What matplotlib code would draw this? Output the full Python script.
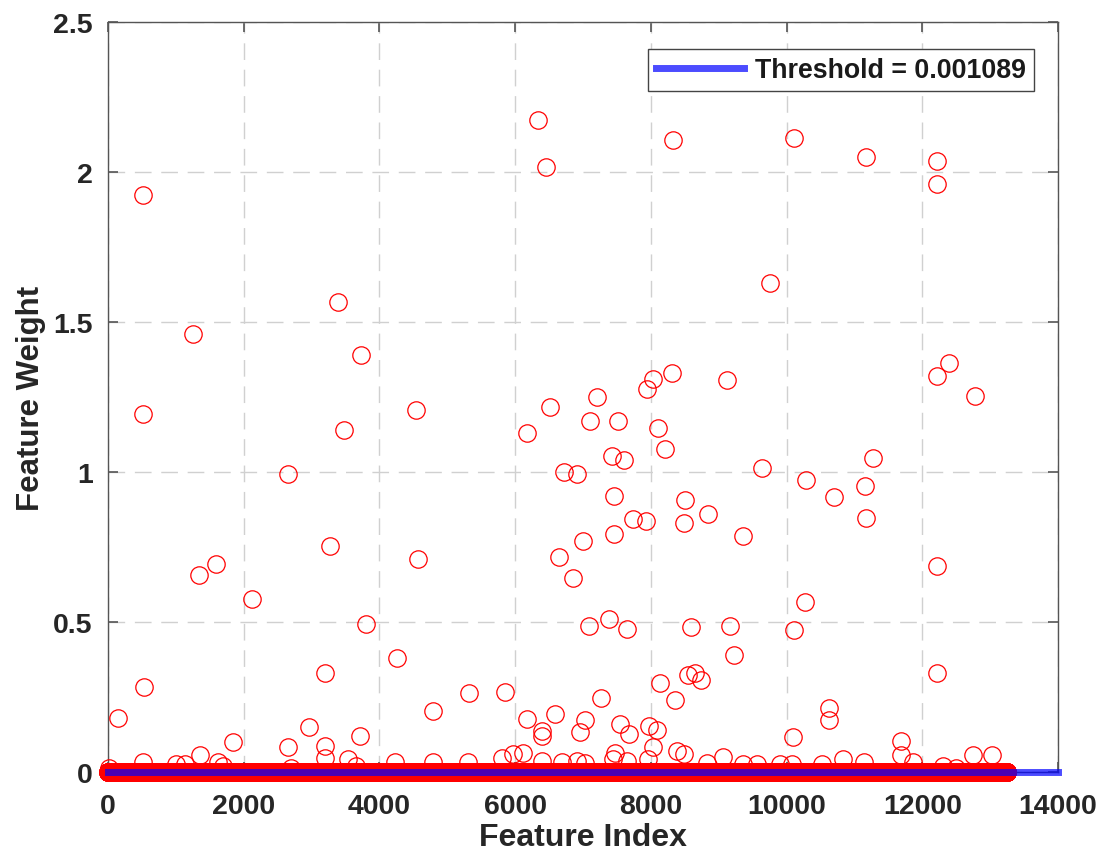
import numpy as np
import matplotlib
matplotlib.use("Agg")
import matplotlib.pyplot as plt
from matplotlib.ticker import FormatStrFormatter

plt.rcParams['font.family'] = ['Liberation Sans', 'DejaVu Sans']

# number of features in the selection run; every feature not listed below has weight 0
n_features = 13250
threshold = 0.001089

# features with a visible (non-zero) weight
feat_idx = [
    521, 6332, 6455, 8331, 10110, 11171, 12222, 12217,
    3394, 1253, 3728, 9751,
    523, 3473, 4535, 6514, 6180, 7103, 7202, 7516, 8105,
    8307, 8027, 7948, 9117, 12398, 12212, 12772,
    8203, 7423, 7609, 6725, 6907, 2657, 9633, 10287, 10695, 11156, 11166, 11278,
    7452, 7732, 7929, 8508, 8493, 8837, 9353, 7455, 7000,
    3277, 1336, 1592, 2127, 4574, 6651, 6848,
    12219, 10277, 7093, 7388, 7644, 8596, 9166, 10112, 3807,
    9230, 4259, 3193, 12224, 8548, 8655, 8739, 8140, 526,
    5325, 5855, 8356, 7270,
    10630, 10633, 4795, 6593, 6170, 7030, 143, 2967, 7545, 7978, 8086,
    6391, 6393, 6956, 7683, 3714, 10100, 1847, 11682, 2660, 3195, 8037,
    8380, 8488, 7472, 6120, 5973, 1356, 11685, 12752, 13023, 9057, 3197,
    5802, 3541, 10837, 6395, 7447, 7646, 7963,
    519, 1000, 1140, 1626, 4230, 4790, 5306, 6686, 6910, 7033, 8823, 9359,
    9560, 9903, 10075, 10517, 11141, 11868, 20, 1700, 2700, 3650, 12300, 12500,
]
feat_w = [
    1.923, 2.173, 2.018, 2.108, 2.115, 2.049, 2.037, 1.961,
    1.568, 1.459, 1.391, 1.632,
    1.193, 1.141, 1.207, 1.218, 1.132, 1.169, 1.249, 1.172, 1.147,
    1.331, 1.312, 1.277, 1.308, 1.364, 1.321, 1.254,
    1.077, 1.054, 1.039, 0.999, 0.993, 0.993, 1.013, 0.973, 0.917, 0.954, 0.848, 1.048,
    0.920, 0.845, 0.838, 0.908, 0.831, 0.859, 0.786, 0.793, 0.771,
    0.753, 0.658, 0.694, 0.577, 0.709, 0.716, 0.647,
    0.687, 0.567, 0.486, 0.510, 0.477, 0.483, 0.486, 0.472, 0.493,
    0.390, 0.381, 0.331, 0.329, 0.323, 0.330, 0.306, 0.297, 0.284,
    0.262, 0.266, 0.240, 0.246,
    0.212, 0.175, 0.202, 0.193, 0.177, 0.175, 0.179, 0.151, 0.160, 0.154, 0.141,
    0.138, 0.121, 0.132, 0.127, 0.119, 0.116, 0.101, 0.104, 0.082, 0.088, 0.082,
    0.071, 0.060, 0.063, 0.063, 0.060, 0.057, 0.057, 0.057, 0.057, 0.049, 0.046,
    0.046, 0.043, 0.043, 0.038, 0.043, 0.038, 0.043,
    0.034, 0.028, 0.028, 0.032, 0.032, 0.033, 0.033, 0.032, 0.038, 0.030, 0.030, 0.028,
    0.028, 0.028, 0.028, 0.028, 0.032, 0.032, 0.015, 0.020, 0.015, 0.020, 0.020, 0.015,
]

index = np.arange(1, n_features + 1)
weights = np.zeros(n_features)
weights[np.array(feat_idx) - 1] = feat_w

fig = plt.figure(figsize=(11.02, 8.54), dpi=100)
ax = fig.add_axes([0.098, 0.0948, 0.862, 0.878])

ax.plot(index, weights, 'o', mfc='none', mec='red', ms=12.5, mew=0.9,
        clip_on=False, zorder=3)
ax.plot([0, 14000], [threshold, threshold], color='blue', alpha=0.7, lw=5,
        label='Threshold = 0.001089', clip_on=False, zorder=4)

ax.set_xlim(0, 14000)
ax.set_ylim(0, 2.5)
ax.set_xticks(np.arange(0, 14001, 2000))
ax.set_yticks(np.arange(0, 2.51, 0.5))
ax.yaxis.set_major_formatter(FormatStrFormatter('%g'))

ax.grid(True, color='#d0d0d0', lw=1.0, linestyle=(0, (12, 7)))
ax.set_axisbelow(True)
for sp in ax.spines.values():
    sp.set_color('#555555')
    sp.set_linewidth(1.0)

ax.tick_params(direction='in', top=True, right=True, length=7, width=1.2,
               color='#555555', labelsize=20.5, labelcolor='#262626')
ax.tick_params(axis='x', pad=15)
ax.tick_params(axis='y', pad=11)
for lbl in ax.get_xticklabels() + ax.get_yticklabels():
    lbl.set_fontweight('bold')

ax.set_xlabel('Feature Index', fontsize=23, fontweight='bold', color='#262626',
              labelpad=2)
ax.set_ylabel('Feature Weight', fontsize=22.5, fontweight='bold', color='#262626',
              labelpad=5)

leg = ax.legend(loc='upper right', bbox_to_anchor=(0.975, 0.964), borderaxespad=0,
                fontsize=19.3, handlelength=3.3, handletextpad=0.4, borderpad=0.3,
                fancybox=False, framealpha=1, edgecolor='#444444')
leg.get_frame().set_linewidth(1.0)
for t in leg.get_texts():
    t.set_fontweight('bold')
    t.set_color('#1a1a1a')
for h in leg.get_lines():
    h.set_linewidth(5)

fig.savefig('out.png', dpi=100, facecolor='white')
